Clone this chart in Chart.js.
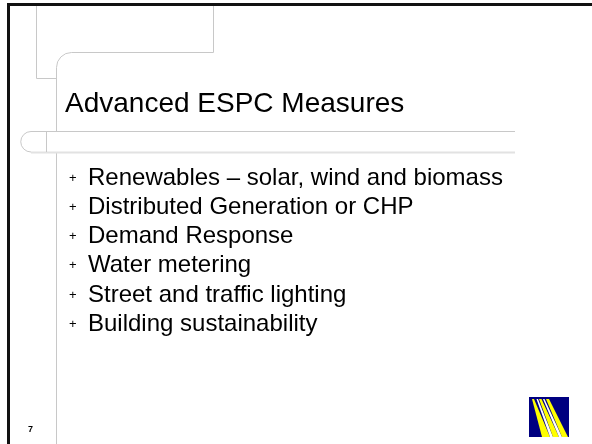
<!DOCTYPE html>
<html>
<head>
<meta charset="utf-8">
<script src="https://cdn.jsdelivr.net/npm/chart.js@4"></script>
<style>
  html, body { margin: 0; padding: 0; background: #fff; }
  #wrap { position: relative; width: 592px; height: 444px; overflow: hidden; font-family: "Liberation Sans", Arial, sans-serif; color: #000; }
  #slide { position: absolute; left: 0; top: 0; }
  .title { position: absolute; left: 65px; top: 89px; font-size: 28px; line-height: 28px; white-space: nowrap; }
  .bullets { position: absolute; left: 69px; top: 162.5px; margin: 0; padding: 0; list-style: none; }
  .bullets li { font-size: 24px; line-height: 28.3px; white-space: nowrap; }
  .bullets li span { display: inline-block; width: 19px; font-size: 13px; vertical-align: 3px; }
  .pagenum { position: absolute; left: 28px; top: 425px; font-size: 9px; line-height: 9px; font-weight: bold; }
</style>
</head>
<body>
<div id="wrap">
  <canvas id="slide" width="592" height="444"></canvas>
  <div class="title" id="title"></div>
  <ul class="bullets" id="bullets"></ul>
  <div class="pagenum" id="pagenum"></div>
</div>
<script>
const slideTitle = 'Advanced ESPC Measures';
const bulletItems = [
  'Renewables – solar, wind and biomass',
  'Distributed Generation or CHP',
  'Demand Response',
  'Water metering',
  'Street and traffic lighting',
  'Building sustainability'
];
const pageNumber = '7';

document.getElementById('title').textContent = slideTitle;
document.getElementById('pagenum').textContent = pageNumber;
const ul = document.getElementById('bullets');
bulletItems.forEach(t => {
  const li = document.createElement('li');
  li.innerHTML = '<span>+</span>';
  li.appendChild(document.createTextNode(t));
  ul.appendChild(li);
});

// slide frame and logo, drawn on the chart canvas
const slideFrame = {
  id: 'slideFrame',
  afterDraw(chart) {
    const ctx = chart.ctx;
    ctx.save();
    // black border top and left
    ctx.fillStyle = '#111';
    ctx.fillRect(7, 3, 585, 3);
    ctx.fillRect(7, 3, 3, 441);

    ctx.strokeStyle = '#c8c8c8';
    ctx.lineWidth = 1;
    // small top-left box
    ctx.beginPath();
    ctx.moveTo(36.5, 6); ctx.lineTo(36.5, 78.5); ctx.lineTo(57, 78.5);
    ctx.stroke();
    // larger corner with rounded join
    ctx.beginPath();
    ctx.moveTo(213.5, 6); ctx.lineTo(213.5, 52.5); ctx.lineTo(72, 52.5);
    ctx.arcTo(56.5, 52.5, 56.5, 68, 15);
    ctx.lineTo(56.5, 131.5);
    ctx.moveTo(56.5, 153); ctx.lineTo(56.5, 444);
    ctx.stroke();
    // horizontal bar with rounded left end
    ctx.beginPath();
    ctx.moveTo(515, 131.5); ctx.lineTo(31, 131.5);
    ctx.arc(31, 141.75, 10.25, -Math.PI / 2, Math.PI / 2, true);
    ctx.stroke();
    ctx.strokeStyle = '#e2e2e2';
    ctx.lineWidth = 2;
    ctx.beginPath();
    ctx.moveTo(31, 152.5); ctx.lineTo(515, 152.5);
    ctx.stroke();
    ctx.strokeStyle = '#c8c8c8';
    ctx.lineWidth = 1;
    ctx.beginPath();
    ctx.moveTo(46.5, 131.5); ctx.lineTo(46.5, 152);
    ctx.stroke();

    // logo
    const lx = 529, ly = 397, ls = 40;
    ctx.fillStyle = '#000080';
    ctx.fillRect(lx, ly, ls, ls);
    ctx.beginPath();
    ctx.rect(lx, ly, ls, ls);
    ctx.clip();
    // rays: [top x0, top x1, bottom x0, bottom x1, colour]
    const rays = [
      [3, 5, 13, 21, '#ffff00'],
      [7.5, 9, 21, 24, '#ffffff'],
      [10, 12.5, 24, 30, '#ffff00'],
      [14, 15.5, 30, 33, '#ffffff'],
      [17, 20, 33, 39, '#ffff00']
    ];
    rays.forEach(([a, b, c, d, col]) => {
      ctx.fillStyle = col;
      ctx.beginPath();
      ctx.moveTo(lx + a, ly + 2);
      ctx.lineTo(lx + b, ly + 2);
      ctx.lineTo(lx + d, ly + ls);
      ctx.lineTo(lx + c, ly + ls);
      ctx.closePath();
      ctx.fill();
    });
    ctx.restore();
  }
};

new Chart(document.getElementById('slide'), {
  type: 'scatter',
  data: { datasets: [] },
  options: {
    responsive: false,
    animation: false,
    events: [],
    layout: { padding: 0 },
    scales: { x: { display: false, min: 0, max: 592 }, y: { display: false, min: 0, max: 444 } },
    plugins: { legend: { display: false }, tooltip: { enabled: false } }
  },
  plugins: [slideFrame]
});
</script>
</body>
</html>
